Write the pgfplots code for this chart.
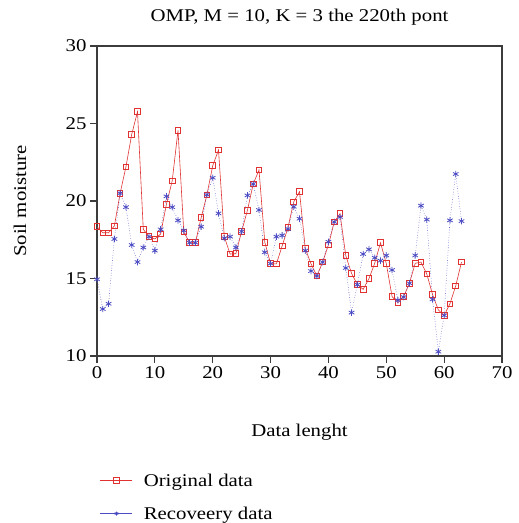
\documentclass[border=0pt]{standalone}
\usepackage{pgfplots}
\pgfplotsset{compat=1.18}
\usepackage{fontspec}
\setmainfont{Liberation Serif}[FakeStretch=1.16]
\definecolor{origred}{RGB}{225,50,50}
\definecolor{recblue}{RGB}{75,75,195}
\definecolor{axgray}{RGB}{60,60,60}
\newcommand{\ffs}{\fontsize{18}{21}\selectfont}
\begin{document}
\begin{tikzpicture}[x=1bp,y=1bp]
\useasboundingbox (0,0) rectangle (519,523);
\begin{axis}[
  at={(97bp,167bp)}, anchor=south west,
  scale only axis, width=405bp, height=310bp,
  xmin=0, xmax=70, ymin=10, ymax=30,
  xtick={0,10,...,70}, ytick={10,15,...,30},
  xtick pos=left, ytick pos=left, tick align=outside,
  major tick length=7bp,
  axis line style={axgray, line width=1.1pt},
  tick style={axgray, line width=1.1pt},
  /pgf/number format/assume math mode=true,
  tick label style={font=\ffs},
  title={OMP, M = 10, K = 3 the 220th pont},
  title style={font=\ffs, at={(axis description cs:0.5,1.074)}, anchor=center},
  xlabel={Data lenght},
  xlabel style={font=\ffs, at={(axis description cs:0.5,-0.245)}, anchor=center},
  ylabel={Soil moisture},
  ylabel style={font=\ffs, at={(axis description cs:-0.19,0.5)}, anchor=center},
  legend style={at={(axis description cs:0,-0.366)}, anchor=north west, draw=none,
    font=\ffs, row sep=15bp, cells={anchor=west},
    /tikz/every odd column/.append style={column sep=9bp}},
  legend cell align=left,
  legend image code/.code={\draw[mark repeat=2,mark phase=2] plot coordinates {(0bp,0bp)(16bp,0bp)(32bp,0bp)};},
]
\addplot[color=origred, line width=0.6pt, mark=square, mark size=2.8bp,
  mark options={solid, line width=0.9pt}] coordinates {
(0,18.34)(1,17.95)(2,17.95)(3,18.39)(4,20.5)(5,22.2)(6,24.3)(7,25.76)
(8,18.17)(9,17.7)(10,17.55)(11,17.87)(12,19.79)(13,21.3)(14,24.56)(15,18.0)
(16,17.31)(17,17.31)(18,18.92)(19,20.4)(20,22.28)(21,23.29)(22,17.7)(23,16.58)
(24,16.6)(25,18.04)(26,19.4)(27,21.1)(28,22.0)(29,17.34)(30,15.96)(31,15.94)
(32,17.1)(33,18.28)(34,19.94)(35,20.6)(36,16.92)(37,15.94)(38,15.16)(39,16.06)
(40,17.16)(41,18.65)(42,19.18)(43,16.47)(44,15.33)(45,14.6)(46,14.3)(47,14.99)
(48,15.98)(49,17.31)(50,15.96)(51,13.83)(52,13.44)(53,13.83)(54,14.69)(55,15.98)
(56,16.06)(57,15.29)(58,13.96)(59,12.97)(60,12.62)(61,13.37)(62,14.52)(63,16.06)
};
\addlegendentry{Original data}
\addplot[color=recblue, line width=0.55pt, dotted, mark=asterisk, mark size=3.2bp,
  mark options={solid, line width=0.8pt}, legend image post style={solid, mark size=2bp}] coordinates {
(0,14.95)(1,13.03)(2,13.37)(3,17.55)(4,20.5)(5,19.6)(6,17.16)(7,16.06)
(8,17.0)(9,17.7)(10,16.8)(11,18.17)(12,20.3)(13,19.6)(14,18.75)(15,18.09)
(16,17.31)(17,17.31)(18,18.34)(19,20.4)(20,21.5)(21,19.2)(22,17.6)(23,17.7)
(24,17.0)(25,18.04)(26,20.36)(27,21.1)(28,19.42)(29,16.69)(30,15.96)(31,17.7)
(32,17.78)(33,18.2)(34,19.63)(35,18.86)(36,16.8)(37,15.48)(38,15.16)(39,16.06)
(40,17.37)(41,18.65)(42,18.97)(43,15.68)(44,12.8)(45,14.6)(46,16.58)(47,16.88)
(48,16.34)(49,16.15)(50,16.49)(51,15.55)(52,13.6)(53,13.8)(54,14.69)(55,16.49)
(56,19.7)(57,18.8)(58,13.65)(59,10.28)(60,12.62)(61,18.75)(62,21.74)(63,18.7)
};
\addlegendentry{Recoveery data}
\end{axis}
\end{tikzpicture}
\end{document}
